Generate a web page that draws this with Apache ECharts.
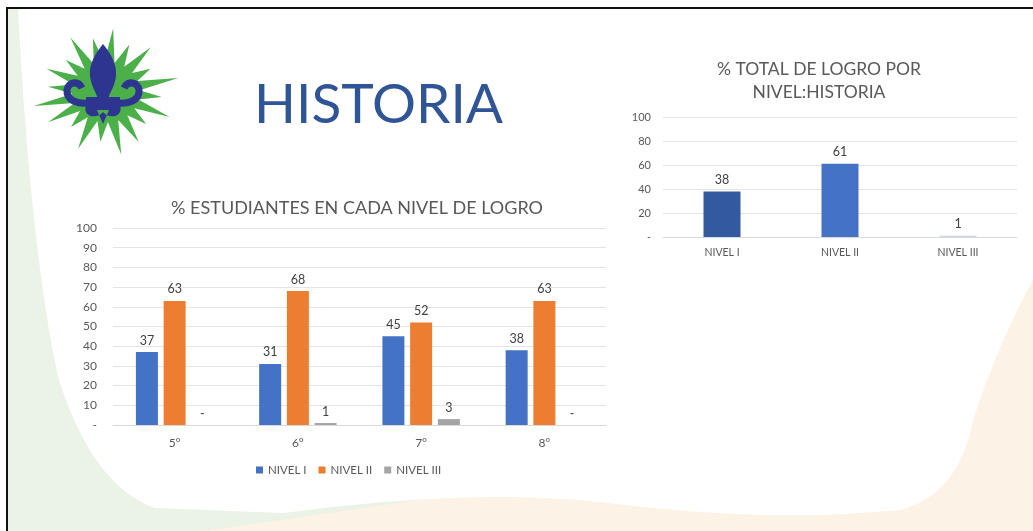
<!DOCTYPE html>
<html>
<head>
<meta charset="utf-8">
<script src="https://cdn.jsdelivr.net/npm/echarts@6/dist/echarts.min.js"></script>
<style>
  html, body { margin: 0; padding: 0; background: #fff; }
  #wrap { position: relative; width: 1033px; height: 531px; }
  #fondo { position: absolute; left: 0; top: 0; }
  #chart { position: absolute; left: 0; top: 0; width: 1033px; height: 531px; }
</style>
</head>
<body>
<div id="wrap">
  <!-- fondo de la diapositiva y logo -->
  <svg id="fondo" width="1033" height="531" xmlns="http://www.w3.org/2000/svg">
    <rect x="0" y="0" width="1033" height="531" fill="#EAF3E6"/>
    <polygon points="205,531 460,494 1033,250 1033,531" fill="#FDF2E6"/>
    <path d="M18,8 L1033,8 L1033,280 C1005,330 980,395 972,425 C962,470 940,500 900,510 C800,520 700,515 600,502 C500,492 400,498 283,513 L155,508 C110,492 80,445 59,380 C40,300 25,150 18,8 Z" fill="#fff"/>
    <rect x="0" y="0" width="1033" height="7" fill="#fff"/>
    <rect x="0" y="0" width="6" height="531" fill="#fff"/>
    <polyline points="7,531 7,8 1033,8" stroke="#111" stroke-width="2" fill="none"/>
    <polygon id="estrella" fill="#4CB04A"/>
    <g fill="#2E3591">
      <path d="M103,44 C95,54 89,64 90,76 C91,86 96,92 98,99 L108,99 C110,92 115,86 116,76 C117,64 111,54 103,44 Z"/>
      <path d="M94,102 C78,106 66,100 67,90 C68,82 78,80 82,88" fill="none" stroke="#2E3591" stroke-width="7"/>
      <path d="M112,102 C128,106 140,100 139,90 C138,82 128,80 124,88" fill="none" stroke="#2E3591" stroke-width="7"/>
      <rect x="86" y="97" width="34" height="10"/>
      <path d="M86,105 C82,118 98,119 103,112 C108,119 124,118 120,105 Z M97,110 L109,110 L103,124 Z"/>
    </g>
  </svg>
  <div id="chart"></div>
</div>
<script>
// datos del grafico de la izquierda
const grados = ['5°', '6°', '7°', '8°'];
const nivel1 = [37, 31, 45, 38];
const nivel2 = [63, 68, 52, 63];
const nivel3 = [0, 1, 3, 0];
// datos del grafico de la derecha
const niveles = ['NIVEL I', 'NIVEL II', 'NIVEL III'];
const totales = [38, 61, 1];
const coloresTotales = ['#335AA1', '#4472C4', '#C9D6EF'];

const fuente = 'Lato, "Open Sans", sans-serif';
const gris = '#595959';

const guion = v => (v === 0 ? '-' : v);

// puntas de la estrella del logo
(function () {
  const radios = [64, 52, 60, 46, 66, 50, 62, 48, 58, 64, 50, 62, 47, 60, 66, 52, 58, 48, 63, 55];
  const n = radios.length * 2;
  const cx = 106, cy = 92;
  const pts = [];
  for (let i = 0; i < n; i++) {
    const a = (i / n) * Math.PI * 2 - Math.PI / 2 + 0.1;
    const r = i % 2 === 0 ? radios[i / 2] : 30;
    pts.push((cx + Math.cos(a) * r * 1.12).toFixed(1) + ',' + (cy + Math.sin(a) * r).toFixed(1));
  }
  document.getElementById('estrella').setAttribute('points', pts.join(' '));
})();

const chart = echarts.init(document.getElementById('chart'));

const option = {
  backgroundColor: 'transparent',
  textStyle: { fontFamily: fuente },
  title: [
    {
      text: '% ESTUDIANTES EN CADA NIVEL DE LOGRO',
      left: 352, top: 194, textAlign: 'center',
      textStyle: { fontSize: 18, fontWeight: 'normal', color: gris, fontFamily: fuente }
    },
    {
      text: '% TOTAL DE LOGRO POR\nNIVEL:HISTORIA',
      left: 814, top: 53, textAlign: 'center',
      textStyle: { fontSize: 17.5, fontWeight: 'normal', color: gris, lineHeight: 23, fontFamily: fuente }
    }
  ],
  legend: {
    data: ['NIVEL I', 'NIVEL II', 'NIVEL III'],
    left: 251, top: 459,
    itemWidth: 7, itemHeight: 7, itemGap: 12,
    icon: 'rect',
    textStyle: { fontSize: 11.5, color: gris, fontFamily: fuente }
  },
  grid: [
    { left: 113, right: 427, top: 228, bottom: 106 },
    { left: 663, right: 16, top: 117, bottom: 294 }
  ],
  xAxis: [
    {
      type: 'category', gridIndex: 0, data: grados,
      axisLine: { lineStyle: { color: '#D9D9D9' } },
      axisTick: { show: false },
      axisLabel: { color: gris, fontSize: 12, margin: 12 }
    },
    {
      type: 'category', gridIndex: 1, data: niveles,
      axisLine: { lineStyle: { color: '#D9D9D9' } },
      axisTick: { show: false },
      axisLabel: { color: gris, fontSize: 10.5, margin: 10 }
    }
  ],
  yAxis: [
    {
      type: 'value', gridIndex: 0, min: 0, max: 100, interval: 10,
      axisLine: { show: false }, axisTick: { show: false },
      axisLabel: { color: gris, fontSize: 12, margin: 16, formatter: guion },
      splitLine: { lineStyle: { color: '#E4E4E4' } }
    },
    {
      type: 'value', gridIndex: 1, min: 0, max: 100, interval: 20,
      axisLine: { show: false }, axisTick: { show: false },
      axisLabel: { color: gris, fontSize: 11, margin: 12, formatter: guion },
      splitLine: { lineStyle: { color: '#E4E4E4' } }
    }
  ],
  series: [
    {
      name: 'NIVEL I', type: 'bar', xAxisIndex: 0, yAxisIndex: 0, data: nivel1,
      barWidth: 22, barGap: '26%',
      itemStyle: { color: '#4472C4' },
      label: { show: true, position: 'top', color: '#404040', fontSize: 12.5, formatter: p => guion(p.value) }
    },
    {
      name: 'NIVEL II', type: 'bar', xAxisIndex: 0, yAxisIndex: 0, data: nivel2,
      barWidth: 22, barGap: '26%',
      itemStyle: { color: '#ED7D31' },
      label: { show: true, position: 'top', color: '#404040', fontSize: 12.5, formatter: p => guion(p.value) }
    },
    {
      name: 'NIVEL III', type: 'bar', xAxisIndex: 0, yAxisIndex: 0, data: nivel3,
      barWidth: 22, barGap: '26%',
      itemStyle: { color: '#A5A5A5' },
      label: { show: true, position: 'top', color: '#404040', fontSize: 12.5, formatter: p => guion(p.value) }
    },
    {
      name: 'total', type: 'bar', xAxisIndex: 1, yAxisIndex: 1,
      data: totales.map((v, i) => ({ value: v, itemStyle: { color: coloresTotales[i] } })),
      barWidth: 37,
      label: { show: true, position: 'top', color: '#404040', fontSize: 12.5 }
    }
  ],
  graphic: [
    {
      type: 'text', left: 254, top: 78,
      style: { text: 'HISTORIA', fill: '#2F5597', fontSize: 55, fontFamily: fuente }
    }
  ]
};

chart.setOption(option);
</script>
</body>
</html>
